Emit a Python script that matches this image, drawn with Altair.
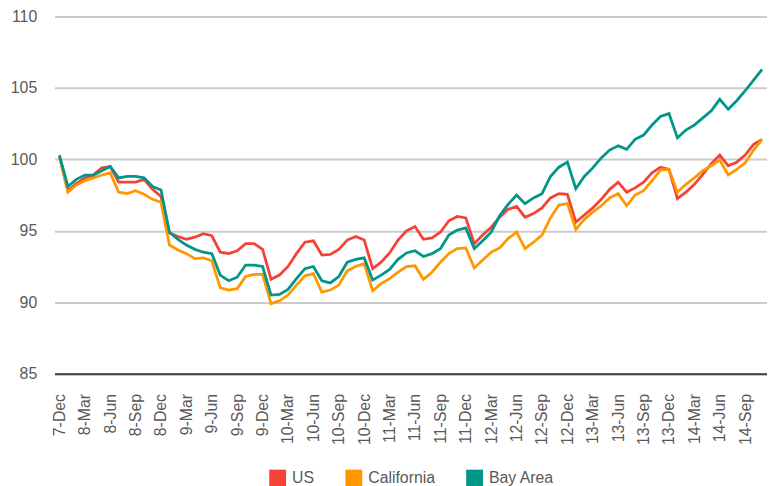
import altair as alt
import pandas as pd

MONTH_NAMES = ["Jan", "Feb", "Mar", "Apr", "May", "Jun",
               "Jul", "Aug", "Sep", "Oct", "Nov", "Dec"]

# Monthly categories Dec 2007 .. Nov 2014 (labels like "7-Dec", "14-Sep")
months = []
for k in range(84):
    m = (11 + k) % 12
    yr = 7 + (11 + k) // 12
    months.append(f"{yr}-{MONTH_NAMES[m]}")
tick_labels = months[::3]

series_names = ["US", "California", "Bay Area"]
series_colors = ["#F44336", "#FF9800", "#009688"]

us = [100.2, 97.8, 98.3, 98.7, 98.9, 99.4, 99.5, 98.4, 98.4, 98.4, 98.6, 97.9,
      97.4, 94.85, 94.6, 94.4, 94.55, 94.8, 94.65, 93.5, 93.4, 93.6, 94.1, 94.1,
      93.7, 91.6, 91.9, 92.5, 93.4, 94.2, 94.3, 93.3, 93.35, 93.7, 94.35, 94.6,
      94.35, 92.35, 92.8, 93.45, 94.35, 95.0, 95.3, 94.4, 94.5, 94.9, 95.7, 96.0,
      95.9, 94.1, 94.7, 95.25, 95.95, 96.5, 96.7, 95.95, 96.2, 96.6, 97.3, 97.6,
      97.55, 95.6, 96.1, 96.6, 97.2, 97.9, 98.4, 97.7, 98.0, 98.4, 99.05, 99.45,
      99.3, 97.25, 97.7, 98.25, 98.95, 99.7, 100.3, 99.55, 99.8, 100.3, 101.05, 101.4]

california = [100.2, 97.7, 98.2, 98.5, 98.7, 98.9, 99.05, 97.7, 97.6, 97.8, 97.55, 97.2,
              97.0, 94.0, 93.65, 93.4, 93.05, 93.1, 92.9, 91.0, 90.85, 90.95, 91.8, 91.95,
              91.95, 89.9, 90.1, 90.5, 91.2, 91.85, 92.0, 90.7, 90.85, 91.2, 92.2, 92.5,
              92.7, 90.8, 91.3, 91.65, 92.1, 92.5, 92.55, 91.6, 92.1, 92.8, 93.4, 93.75,
              93.8, 92.4, 92.95, 93.5, 93.8, 94.45, 94.9, 93.75, 94.2, 94.7, 95.9, 96.8,
              96.9, 95.1, 95.8, 96.3, 96.75, 97.3, 97.6, 96.75, 97.5, 97.8, 98.5, 99.25,
              99.3, 97.7, 98.25, 98.7, 99.2, 99.55, 99.95, 98.9, 99.3, 99.75, 100.65, 101.4]

bay_area = [100.3, 98.1, 98.6, 98.9, 98.9, 99.2, 99.5, 98.7, 98.8, 98.8, 98.7, 98.1,
            97.85, 94.9, 94.4, 94.0, 93.7, 93.5, 93.4, 91.9, 91.5, 91.75, 92.6, 92.6,
            92.5, 90.5, 90.55, 90.9, 91.65, 92.35, 92.5, 91.5, 91.35, 91.8, 92.8, 93.0,
            93.1, 91.55, 91.9, 92.3, 93.0, 93.45, 93.6, 93.2, 93.4, 93.75, 94.7, 95.05,
            95.2, 93.75, 94.3, 94.9, 96.05, 96.85, 97.5, 96.9, 97.3, 97.6, 98.8, 99.45,
            99.8, 97.95, 98.8, 99.4, 100.1, 100.65, 100.95, 100.7, 101.4, 101.7, 102.4, 103.0,
            103.2, 101.5, 102.05, 102.4, 102.9, 103.4, 104.2, 103.5, 104.1, 104.8, 105.55, 106.3]

y_ticks = [85, 90, 95, 100, 105, 110]

rows = []
for name, vals in zip(series_names, [us, california, bay_area]):
    for i, (mo, v) in enumerate(zip(months, vals)):
        rows.append({"series": name, "month": mo, "idx": i, "value": v})
df = pd.DataFrame(rows)

x_enc = alt.X(
    "month:O",
    sort=months,
    scale=alt.Scale(type="point", padding=0.58),
    axis=alt.Axis(
        values=tick_labels, labelAngle=-90, ticks=False, labelPadding=20,
        labelFontSize=16, labelColor="#595959", domain=True,
        domainColor="#404040", domainWidth=2, grid=False, title=None,
    ),
)
y_enc = alt.Y(
    "value:Q",
    scale=alt.Scale(domain=[85, 110], nice=False, zero=False),
    axis=alt.Axis(
        values=y_ticks, ticks=False, domain=False,
        gridColor="#cbcbcb", gridWidth=2, labelPadding=18, labelFontSize=16,
        labelColor="#595959", title=None,
    ),
)
color_scale = alt.Scale(domain=series_names, range=series_colors)

lines = alt.Chart(df).mark_line(strokeWidth=2.8).encode(
    x=x_enc,
    y=y_enc,
    color=alt.Color("series:N", sort=series_names, scale=color_scale, legend=None),
    order=alt.Order("idx:Q"),
)

# Legend-only layer: filled squares, with no rows drawn
legend_layer = alt.Chart(df).transform_filter("false").mark_square(filled=True, opacity=1).encode(
    color=alt.Color(
        "series:N",
        sort=series_names,
        scale=color_scale,
        legend=alt.Legend(
            orient="none", legendX=217, legendY=458, direction="horizontal",
            title=None, padding=0,
            symbolType="square", symbolSize=289, labelFontSize=16,
            labelColor="#595959", columnPadding=31, labelOffset=6,
            symbolStrokeWidth=0,
        ),
    ),
)

chart = alt.layer(lines, legend_layer).resolve_legend(
    color="independent"
).properties(
    width=720, height=361,
    autosize=alt.AutoSizeParams(type="none"),
    padding={"left": 47, "top": 6, "right": 0, "bottom": 111},
).configure(
    font="Liberation Sans"
).configure_view(
    strokeWidth=0, stroke="transparent"
)

chart.save("out.html", embed_options={"renderer": "svg", "actions": False})
